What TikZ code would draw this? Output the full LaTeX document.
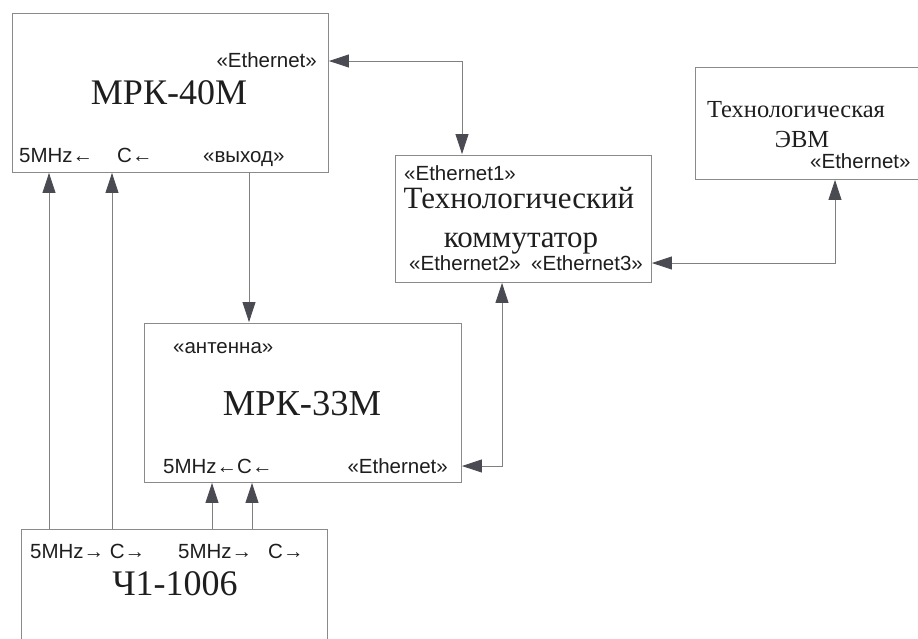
\documentclass[tikz,border=0pt]{standalone}
\usepackage{fontspec}
\setmainfont{Liberation Serif}
\setsansfont{Liberation Sans}
\usetikzlibrary{arrows.meta}
\definecolor{linegray}{HTML}{808080}
\definecolor{boxgray}{HTML}{8A8A8A}
\definecolor{headgray}{HTML}{4A4A52}
\definecolor{txt}{HTML}{1E1E1E}
\tikzset{
  box/.style={draw=boxgray, line width=0.9pt, rectangle, inner sep=0pt},
  lab/.style={font=\sffamily\fontsize{20.5}{20.5}\selectfont, inner sep=0pt, text=txt},
  ttl/.style={font=\fontsize{#1}{#1}\selectfont, inner sep=0pt, text=txt},
  arr/.style={draw=linegray, line width=0.8pt, -{Triangle[length=20pt,width=13pt,color=headgray]}, shorten >=0.5pt},
  biarr/.style={draw=linegray, line width=0.8pt, {Triangle[length=20pt,width=13pt,color=headgray]}-{Triangle[length=20pt,width=13pt,color=headgray]}, shorten >=0.5pt, shorten <=0.5pt}
}
\begin{document}
\begin{tikzpicture}[x=1pt,y=-1pt]
\fill[white] (0,0) rectangle (918,638);
\useasboundingbox (0,0) rectangle (918,638);

% boxes
\node[box, minimum width=316pt, minimum height=159pt] (mrk40) at (170,92.5) {};
\node[box, minimum width=256pt, minimum height=127pt] (sw) at (523,218.5) {};
\node[box, minimum width=235pt, minimum height=112pt] (evm) at (812.5,123) {};
\node[box, minimum width=317pt, minimum height=159pt] (mrk33) at (302.5,402.5) {};
\node[box, minimum width=306pt, minimum height=121pt] (ch1) at (174,589.5) {};

% MRK-40M texts
\node[lab, anchor=base east] (t40eth) at (317,67) {«Ethernet»};
\node[ttl=36, anchor=base] (t40) at (169,104) {МРК-40М};
\node[lab, anchor=base west] (t40a) at (19,162) {5MHz←};
\node[lab, anchor=base west] (t40b) at (117,162) {C←};
\node[lab, anchor=base west] (t40c) at (203,162) {«выход»};

% switch texts
\node[lab, anchor=base west] (tsw1) at (404,180) {«Ethernet1»};
\node[ttl=31, anchor=base] (tswa) at (519,208) {Технологический};
\node[ttl=31, anchor=base] (tswb) at (521,247) {коммутатор};
\node[lab, anchor=base west] (tsw2) at (409,270) {«Ethernet2»};
\node[lab, anchor=base west] (tsw3) at (531,270) {«Ethernet3»};

% EVM texts
\node[ttl=24.5, anchor=base] (tevma) at (796,117) {Технологическая};
\node[ttl=24.5, anchor=base] (tevmb) at (802,147) {ЭВМ};
\node[lab, anchor=base west] (tevmc) at (810,168) {«Ethernet»};

% MRK-33M texts
\node[lab, anchor=base west] (t33ant) at (173,353) {«антенна»};
\node[ttl=36.5, anchor=base] (t33) at (302,415) {МРК-33М};
\node[lab, anchor=base west] (t33a) at (163,473) {5MHz←C←};
\node[lab, anchor=base east] (t33eth) at (448,473) {«Ethernet»};

% Ch1 texts
\node[lab, anchor=base west] (tc1) at (30,558) {5MHz→ C→};
\node[lab, anchor=base west] (tc2) at (178,558) {5MHz→};
\node[lab, anchor=base west] (tc3) at (268,558) {C→};
\node[ttl=36, anchor=base] (tch1) at (175,595) {Ч1-1006};

% connector positions
\coordinate (xa) at (49,0);
\coordinate (xb) at (112,0);
\coordinate (xc) at (249,0);
\coordinate (xd) at (212,0);
\coordinate (xe) at (252,0);
\coordinate (xf) at (462,0);
\coordinate (xg) at (502,0);
\coordinate (xh) at (835,0);
\coordinate (ya) at (0,61);
\coordinate (yb) at (0,263);
\coordinate (yc) at (0,466);

% connectors
\draw[biarr] (mrk40.east |- ya) -| (sw.north -| xf);
\draw[biarr] (sw.east |- yb) -| (evm.south -| xh);
\draw[biarr] (mrk33.east |- yc) -| (sw.south -| xg);
\draw[arr] (mrk40.south -| xc) -- (mrk33.north -| xc);
\draw[arr] (ch1.north -| xa) -- (mrk40.south -| xa);
\draw[arr] (ch1.north -| xb) -- (mrk40.south -| xb);
\draw[arr] (ch1.north -| xd) -- (mrk33.south -| xd);
\draw[arr] (ch1.north -| xe) -- (mrk33.south -| xe);
\end{tikzpicture}
\end{document}
